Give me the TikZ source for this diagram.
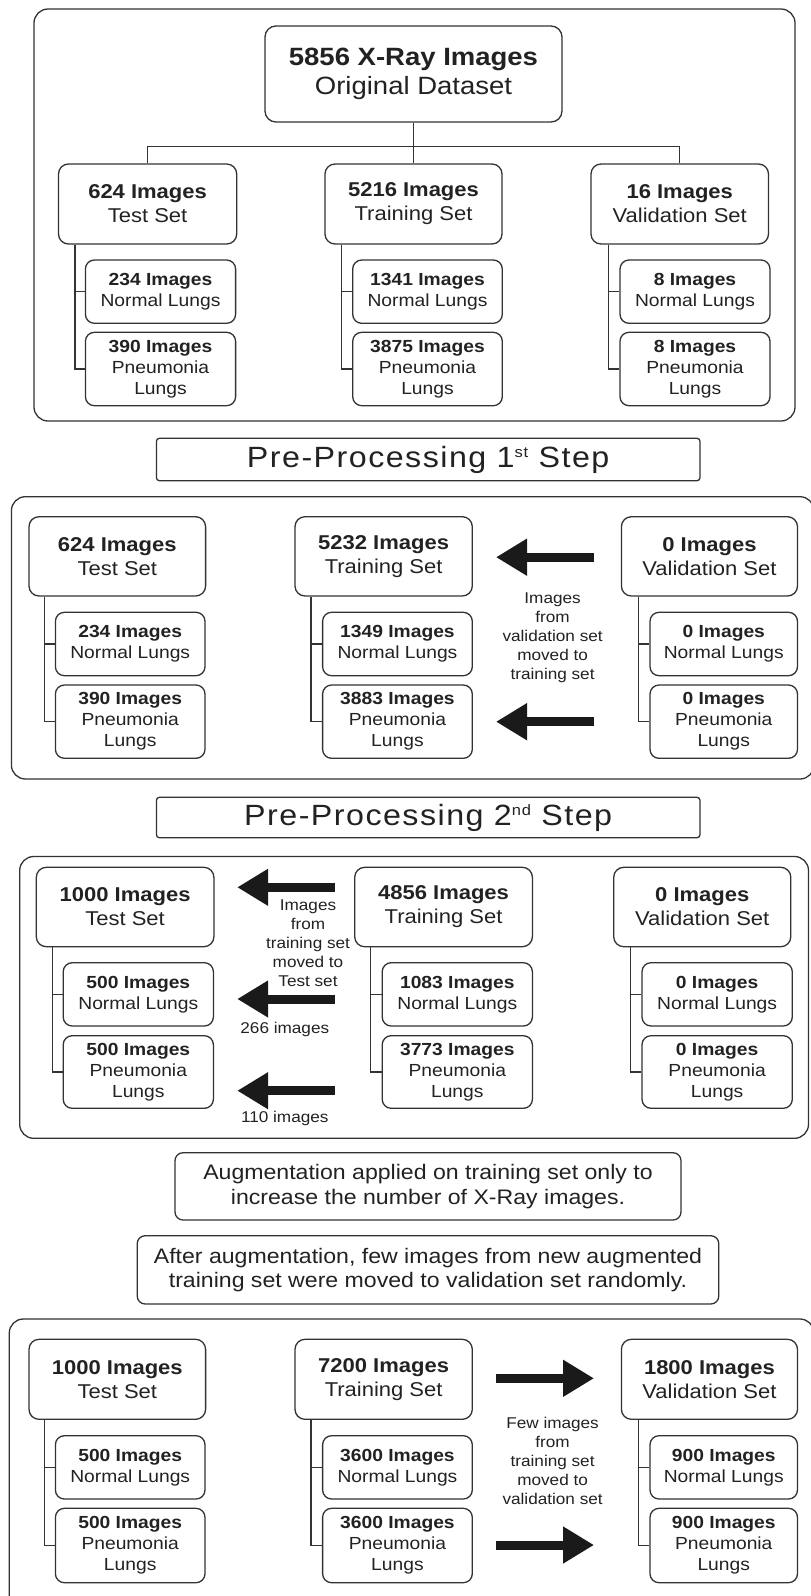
\documentclass[tikz,border=0pt]{standalone}
\usepackage{fontspec}
\setmainfont{Liberation Sans}[FakeStretch=1.1]
\usetikzlibrary{arrows.meta}
\definecolor{ln}{HTML}{333333}
\definecolor{tx}{HTML}{222222}
\definecolor{ar}{HTML}{1A1A1A}
\newcommand\mkbox[7]{\node[#6, minimum width={(#4)-(#2)}, minimum height={(#5)-(#3)}] (#1) at ({((#2)+(#4))/2},{((#3)+(#5))/2}) {#7};}
\newcommand\brk[4]{\coordinate (#1b) at (#2,0);
  \draw[conn] (#1.south -| #1b) |- (#4.west) (#1b |- #3.west) -- (#3.west);}
\newcommand\supr[1]{\raisebox{10pt}{\fontsize{15}{15}\selectfont #1}}
\begin{document}
\begin{tikzpicture}[x=1pt,y=-1pt,
  outer/.style={draw=ln, line width=1.3pt, rounded corners=14pt},
  basebox/.style={draw=ln, line width=1.3pt, inner sep=0pt, align=center, text=tx, fill=white},
  topbox/.style={basebox, rounded corners=11pt, font=\fontsize{25}{29}\selectfont},
  lone/.style={basebox, rounded corners=10pt, font=\fontsize{20}{24}\selectfont},
  sub/.style={basebox, rounded corners=9pt, font=\fontsize{17.5}{21}\selectfont},
  head/.style={basebox, rounded corners=3pt, font=\fontsize{29.3}{32}\selectfont\addfontfeatures{LetterSpace=5}},
  info/.style={basebox, rounded corners=8pt, font=\fontsize{21}{24.5}\selectfont},
  note/.style={inner sep=0pt, align=center, text=tx, font=\fontsize{15.6}{19}\selectfont},
  conn/.style={draw=ln, line width=1.2pt},
  bigarrow/.style={draw=ar, line width=9pt, -{Triangle[length=31pt,width=35pt]}}]
\useasboundingbox (0,0) rectangle (811,1596);
\clip (0,0) rectangle (811,1596);
\fill[white] (0,0) rectangle (811,1596);

% ---------- Section 1 ----------
\draw[outer] (34,9) rectangle (795,421);
\mkbox{top}{265}{26}{562}{122}{topbox}{{\bfseries 5856 X-Ray Images}\\Original Dataset}
\mkbox{te1}{58.5}{164}{236.7}{244}{lone}{{\bfseries 624 Images}\\Test Set}
\mkbox{tr1}{325}{164}{502}{244}{lone}{{\bfseries 5216 Images}\\Training Set}
\mkbox{va1}{591}{164}{768.5}{244}{lone}{{\bfseries 16 Images}\\Validation Set}
\mkbox{te1n}{85.4}{260}{235.6}{323.3}{sub}{{\bfseries 234 Images}\\Normal Lungs}
\mkbox{te1p}{85.4}{332.3}{235.6}{405.7}{sub}{{\bfseries 390 Images}\\Pneumonia\\Lungs}
\mkbox{tr1n}{352.7}{260}{502.3}{323.3}{sub}{{\bfseries 1341 Images}\\Normal Lungs}
\mkbox{tr1p}{352.7}{332.3}{502.3}{405.7}{sub}{{\bfseries 3875 Images}\\Pneumonia\\Lungs}
\mkbox{va1n}{620}{260}{770}{323.3}{sub}{{\bfseries 8 Images}\\Normal Lungs}
\mkbox{va1p}{620}{332.3}{770}{405.7}{sub}{{\bfseries 8 Images}\\Pneumonia\\Lungs}
\coordinate (hj) at (0,146.7);
\draw[conn] (top.south) -- (tr1.north);
\draw[conn] (te1.north) |- (top.south |- hj) -| (va1.north);
\brk{te1}{75}{te1n}{te1p}
\brk{tr1}{341.8}{tr1n}{tr1p}
\brk{va1}{608.5}{va1n}{va1p}

% ---------- Section 2 ----------
\mkbox{h1}{156.4}{438.3}{700}{480.7}{head}{Pre-Processing 1\supr{st} Step}
\draw[outer] (11.4,496.7) rectangle (814,779);
\mkbox{te2}{29}{516.7}{205.6}{596}{lone}{{\bfseries 624 Images}\\Test Set}
\mkbox{tr2}{295}{516.7}{472.3}{596}{lone}{{\bfseries 5232 Images}\\Training Set}
\mkbox{va2}{621.4}{516.7}{797.5}{596}{lone}{{\bfseries 0 Images}\\Validation Set}
\mkbox{te2n}{55.4}{612.3}{205}{675.7}{sub}{{\bfseries 234 Images}\\Normal Lungs}
\mkbox{te2p}{55.4}{685}{205}{758.3}{sub}{{\bfseries 390 Images}\\Pneumonia\\Lungs}
\mkbox{tr2n}{322.6}{612.3}{472.3}{675.7}{sub}{{\bfseries 1349 Images}\\Normal Lungs}
\mkbox{tr2p}{322.6}{685}{472.3}{758.3}{sub}{{\bfseries 3883 Images}\\Pneumonia\\Lungs}
\mkbox{va2n}{650}{612.3}{797.5}{675.7}{sub}{{\bfseries 0 Images}\\Normal Lungs}
\mkbox{va2p}{650}{685}{797.5}{758.3}{sub}{{\bfseries 0 Images}\\Pneumonia\\Lungs}
\brk{te2}{44.5}{te2n}{te2p}
\brk{tr2}{311}{tr2n}{tr2p}
\brk{va2}{638.5}{va2n}{va2p}
\coordinate (a21s) at (594,557.2); \coordinate (a21e) at (496,557.2);
\coordinate (a22s) at (594,721.7); \coordinate (a22e) at (496,721.7);
\draw[bigarrow] (a21s) -- (a21e);
\draw[bigarrow] (a22s) -- (a22e);
\node[note] (n2) at (552.6,637.8) {Images\\from\\validation set\\moved to\\training set};

% ---------- Section 3 ----------
\mkbox{h2}{156.4}{797.3}{700}{837.7}{head}{Pre-Processing 2\supr{nd} Step}
\draw[outer] (19.7,856.5) rectangle (808.5,1138.3);
\mkbox{te3}{36.3}{867.3}{213.9}{946.7}{lone}{{\bfseries 1000 Images}\\Test Set}
\mkbox{tr3}{354.7}{867.3}{532.4}{946.7}{lone}{{\bfseries 4856 Images}\\Training Set}
\mkbox{va3}{613.7}{867.3}{790.8}{946.7}{lone}{{\bfseries 0 Images}\\Validation Set}
\mkbox{te3n}{63.2}{962.7}{213.4}{1026}{sub}{{\bfseries 500 Images}\\Normal Lungs}
\mkbox{te3p}{63.2}{1035.7}{213.4}{1108.3}{sub}{{\bfseries 500 Images}\\Pneumonia\\Lungs}
\mkbox{tr3n}{382.2}{962.7}{532.4}{1026}{sub}{{\bfseries 1083 Images}\\Normal Lungs}
\mkbox{tr3p}{382.2}{1035.7}{532.4}{1108.3}{sub}{{\bfseries 3773 Images}\\Pneumonia\\Lungs}
\mkbox{va3n}{642}{962.7}{792.3}{1026}{sub}{{\bfseries 0 Images}\\Normal Lungs}
\mkbox{va3p}{642}{1035.7}{792.3}{1108.3}{sub}{{\bfseries 0 Images}\\Pneumonia\\Lungs}
\brk{te3}{52.8}{te3n}{te3p}
\brk{tr3}{370.8}{tr3n}{tr3p}
\brk{va3}{630.8}{va3n}{va3p}
\coordinate (a31s) at (334.5,887.3); \coordinate (a31e) at (237.2,887.3);
\coordinate (a32s) at (334.5,999); \coordinate (a32e) at (237.2,999);
\coordinate (a33s) at (334.5,1090.7); \coordinate (a33e) at (237.2,1090.7);
\draw[bigarrow] (a31s) -- (a31e);
\draw[bigarrow] (a32s) -- (a32e);
\draw[bigarrow] (a33s) -- (a33e);
\node[note] (n3) at (308,943.5) {Images\\from\\training set\\moved to\\Test set};
\node[note] (n3a) at (284.8,1029) {266 images};
\node[note] (n3b) at (284.8,1118.3) {110 images};

% ---------- Section 4 ----------
\mkbox{aug}{175}{1152.7}{681}{1220}{info}{Augmentation applied on training set only to\\increase the number of X-Ray images.}
\mkbox{aft}{137.2}{1235.7}{718.8}{1304}{info}{After augmentation, few images from new augmented\\training set were moved to validation set randomly.}
\draw[outer] (9.3,1319) rectangle (814,1625);
\mkbox{te4}{29}{1339.3}{205.6}{1419.3}{lone}{{\bfseries 1000 Images}\\Test Set}
\mkbox{tr4}{295}{1339.3}{472.3}{1419.3}{lone}{{\bfseries 7200 Images}\\Training Set}
\mkbox{va4}{621.4}{1339.3}{797.5}{1419.3}{lone}{{\bfseries 1800 Images}\\Validation Set}
\mkbox{te4n}{55.4}{1435.7}{205}{1499}{sub}{{\bfseries 500 Images}\\Normal Lungs}
\mkbox{te4p}{55.4}{1508.3}{205}{1582.7}{sub}{{\bfseries 500 Images}\\Pneumonia\\Lungs}
\mkbox{tr4n}{322.6}{1435.7}{472.3}{1499}{sub}{{\bfseries 3600 Images}\\Normal Lungs}
\mkbox{tr4p}{322.6}{1508.3}{472.3}{1582.7}{sub}{{\bfseries 3600 Images}\\Pneumonia\\Lungs}
\mkbox{va4n}{650}{1435.7}{797.5}{1499}{sub}{{\bfseries 900 Images}\\Normal Lungs}
\mkbox{va4p}{650}{1508.3}{797.5}{1582.7}{sub}{{\bfseries 900 Images}\\Pneumonia\\Lungs}
\brk{te4}{44.3}{te4n}{te4p}
\brk{tr4}{311}{tr4n}{tr4p}
\brk{va4}{638.5}{va4n}{va4p}
\coordinate (a41s) at (496,1378.3); \coordinate (a41e) at (594,1378.3);
\coordinate (a42s) at (496,1545); \coordinate (a42e) at (594,1545);
\draw[bigarrow] (a41s) -- (a41e);
\draw[bigarrow] (a42s) -- (a42e);
\node[note] (n4) at (552.6,1461.2) {Few images\\from\\training set\\moved to\\validation set};
\end{tikzpicture}
\end{document}
